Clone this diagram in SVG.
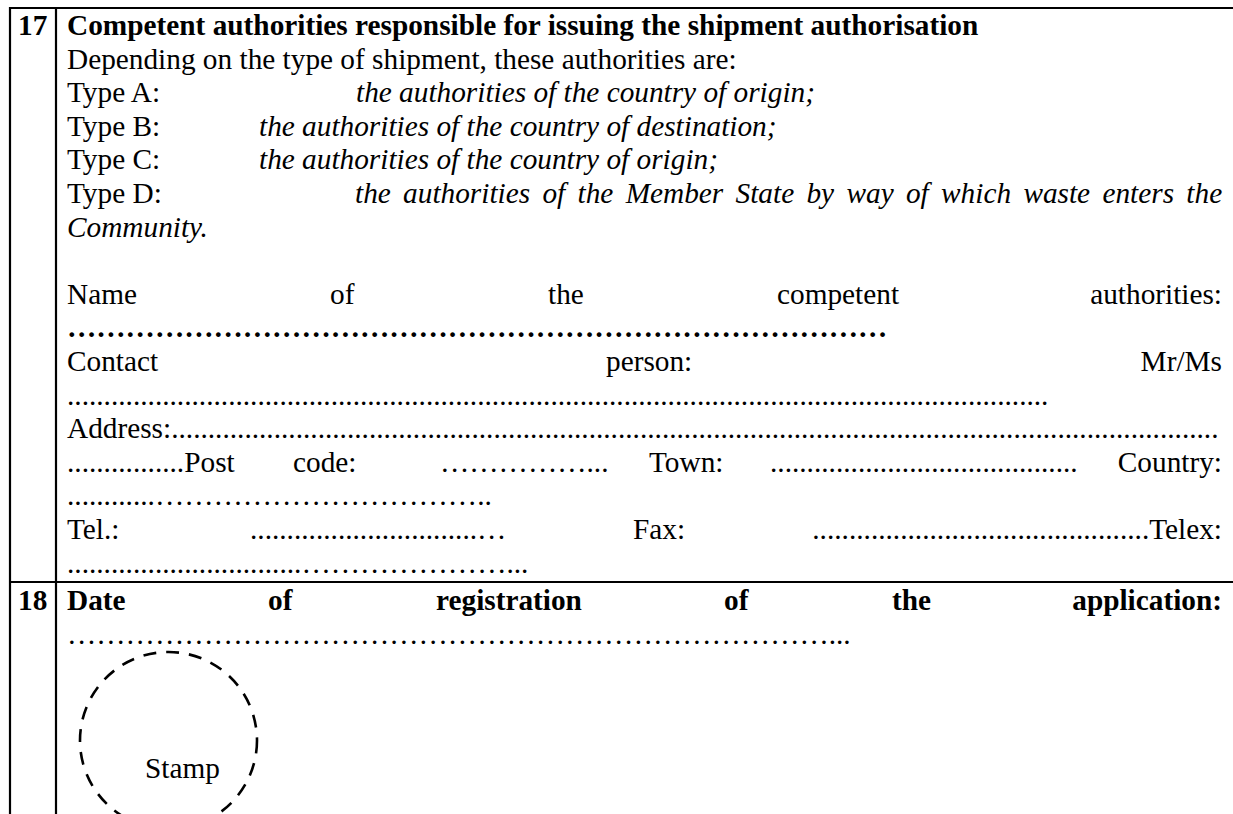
<svg xmlns="http://www.w3.org/2000/svg" width="1233" height="814" viewBox="0 0 1233 814">
<style>
text{font-family:"Liberation Serif","Times New Roman",serif;font-size:29.3px;fill:#000}
.b{font-weight:bold}
.i{font-style:italic}
.rule{stroke:#000;stroke-width:2.2;fill:none}
.end{text-anchor:end}
</style>
<rect x="0" y="0" width="1233" height="814" fill="#fff"/>
<g id="table-lines">
<line class="rule" x1="9" y1="8" x2="1233" y2="8"/>
<line class="rule" x1="9" y1="582" x2="1233" y2="582"/>
<line class="rule" x1="10" y1="7" x2="10" y2="814"/>
<line class="rule" x1="56" y1="7" x2="56" y2="814"/>
</g>
<g id="row17">
<text class="b" x="18" y="35">17</text>
<text class="b" x="67" y="35">Competent authorities responsible for issuing the shipment authorisation</text>
<text x="67" y="68.6">Depending on the type of shipment, these authorities are:</text>
<text x="67" y="102.2">Type A:</text>
<text class="i" x="356" y="102.2">the authorities of the country of origin;</text>
<text x="67" y="135.8">Type B:</text>
<text class="i" x="259" y="135.8">the authorities of the country of destination;</text>
<text x="67" y="169.4">Type C:</text>
<text class="i" x="259" y="169.4">the authorities of the country of origin;</text>
<text x="67" y="203">Type D:</text>
<text class="i" x="355" y="203" word-spacing="5">the authorities of the Member State by way of which waste enters the</text>
<text class="i" x="67" y="236.6">Community.</text>
<text y="303.8"><tspan x="67">Name</tspan><tspan x="330">of</tspan><tspan x="548">the</tspan><tspan x="777">competent</tspan></text>
<text class="end" x="1222" y="303.8">authorities:</text>
<text class="b" x="67" y="337.4"><tspan>…………</tspan><tspan>…………</tspan><tspan>…………</tspan><tspan>…………</tspan><tspan>…………</tspan><tspan>…………</tspan><tspan>…………</tspan></text>
<text y="371"><tspan x="67">Contact</tspan><tspan x="606">person:</tspan></text>
<text class="end" x="1222" y="371">Mr/Ms</text>
<text x="67" y="404.6">......................................................................................................................................</text>
<text x="67" y="438.2">Address:...............................................................................................................................................</text>
<text y="471.8"><tspan x="67">................Post</tspan><tspan x="293">code:</tspan><tspan x="440">……………...</tspan><tspan x="649">Town:</tspan><tspan x="770">..........................................</tspan></text>
<text class="end" x="1222" y="471.8">Country:</text>
<text x="67" y="505.4"><tspan>............</tspan><tspan>…………</tspan><tspan>…………</tspan><tspan>………</tspan><tspan>..</tspan></text>
<text y="539"><tspan x="67">Tel.:</tspan><tspan x="250">...............................…</tspan><tspan x="633">Fax:</tspan></text>
<text class="end" x="1222" y="539">..............................................Telex:</text>
<text x="67" y="572.6"><tspan>................................</tspan><tspan>…………</tspan><tspan>………</tspan><tspan>...</tspan></text>
</g>
<g id="row18">
<text class="b" x="18" y="610">18</text>
<text class="b" y="610"><tspan x="67">Date</tspan><tspan x="268">of</tspan><tspan x="436">registration</tspan><tspan x="724">of</tspan><tspan x="892">the</tspan></text>
<text class="b end" x="1222" y="610">application:</text>
<text x="67" y="644"><tspan>…………</tspan><tspan>…………</tspan><tspan>…………</tspan><tspan>…………</tspan><tspan>…………</tspan><tspan>…………</tspan><tspan>……</tspan><tspan>...</tspan></text>
</g>
<g id="stamp">
<circle cx="168.5" cy="740.5" r="88.5" fill="none" stroke="#000" stroke-width="2.6" stroke-dasharray="13 10"/>
<text x="145" y="778">Stamp</text>
</g>
</svg>
